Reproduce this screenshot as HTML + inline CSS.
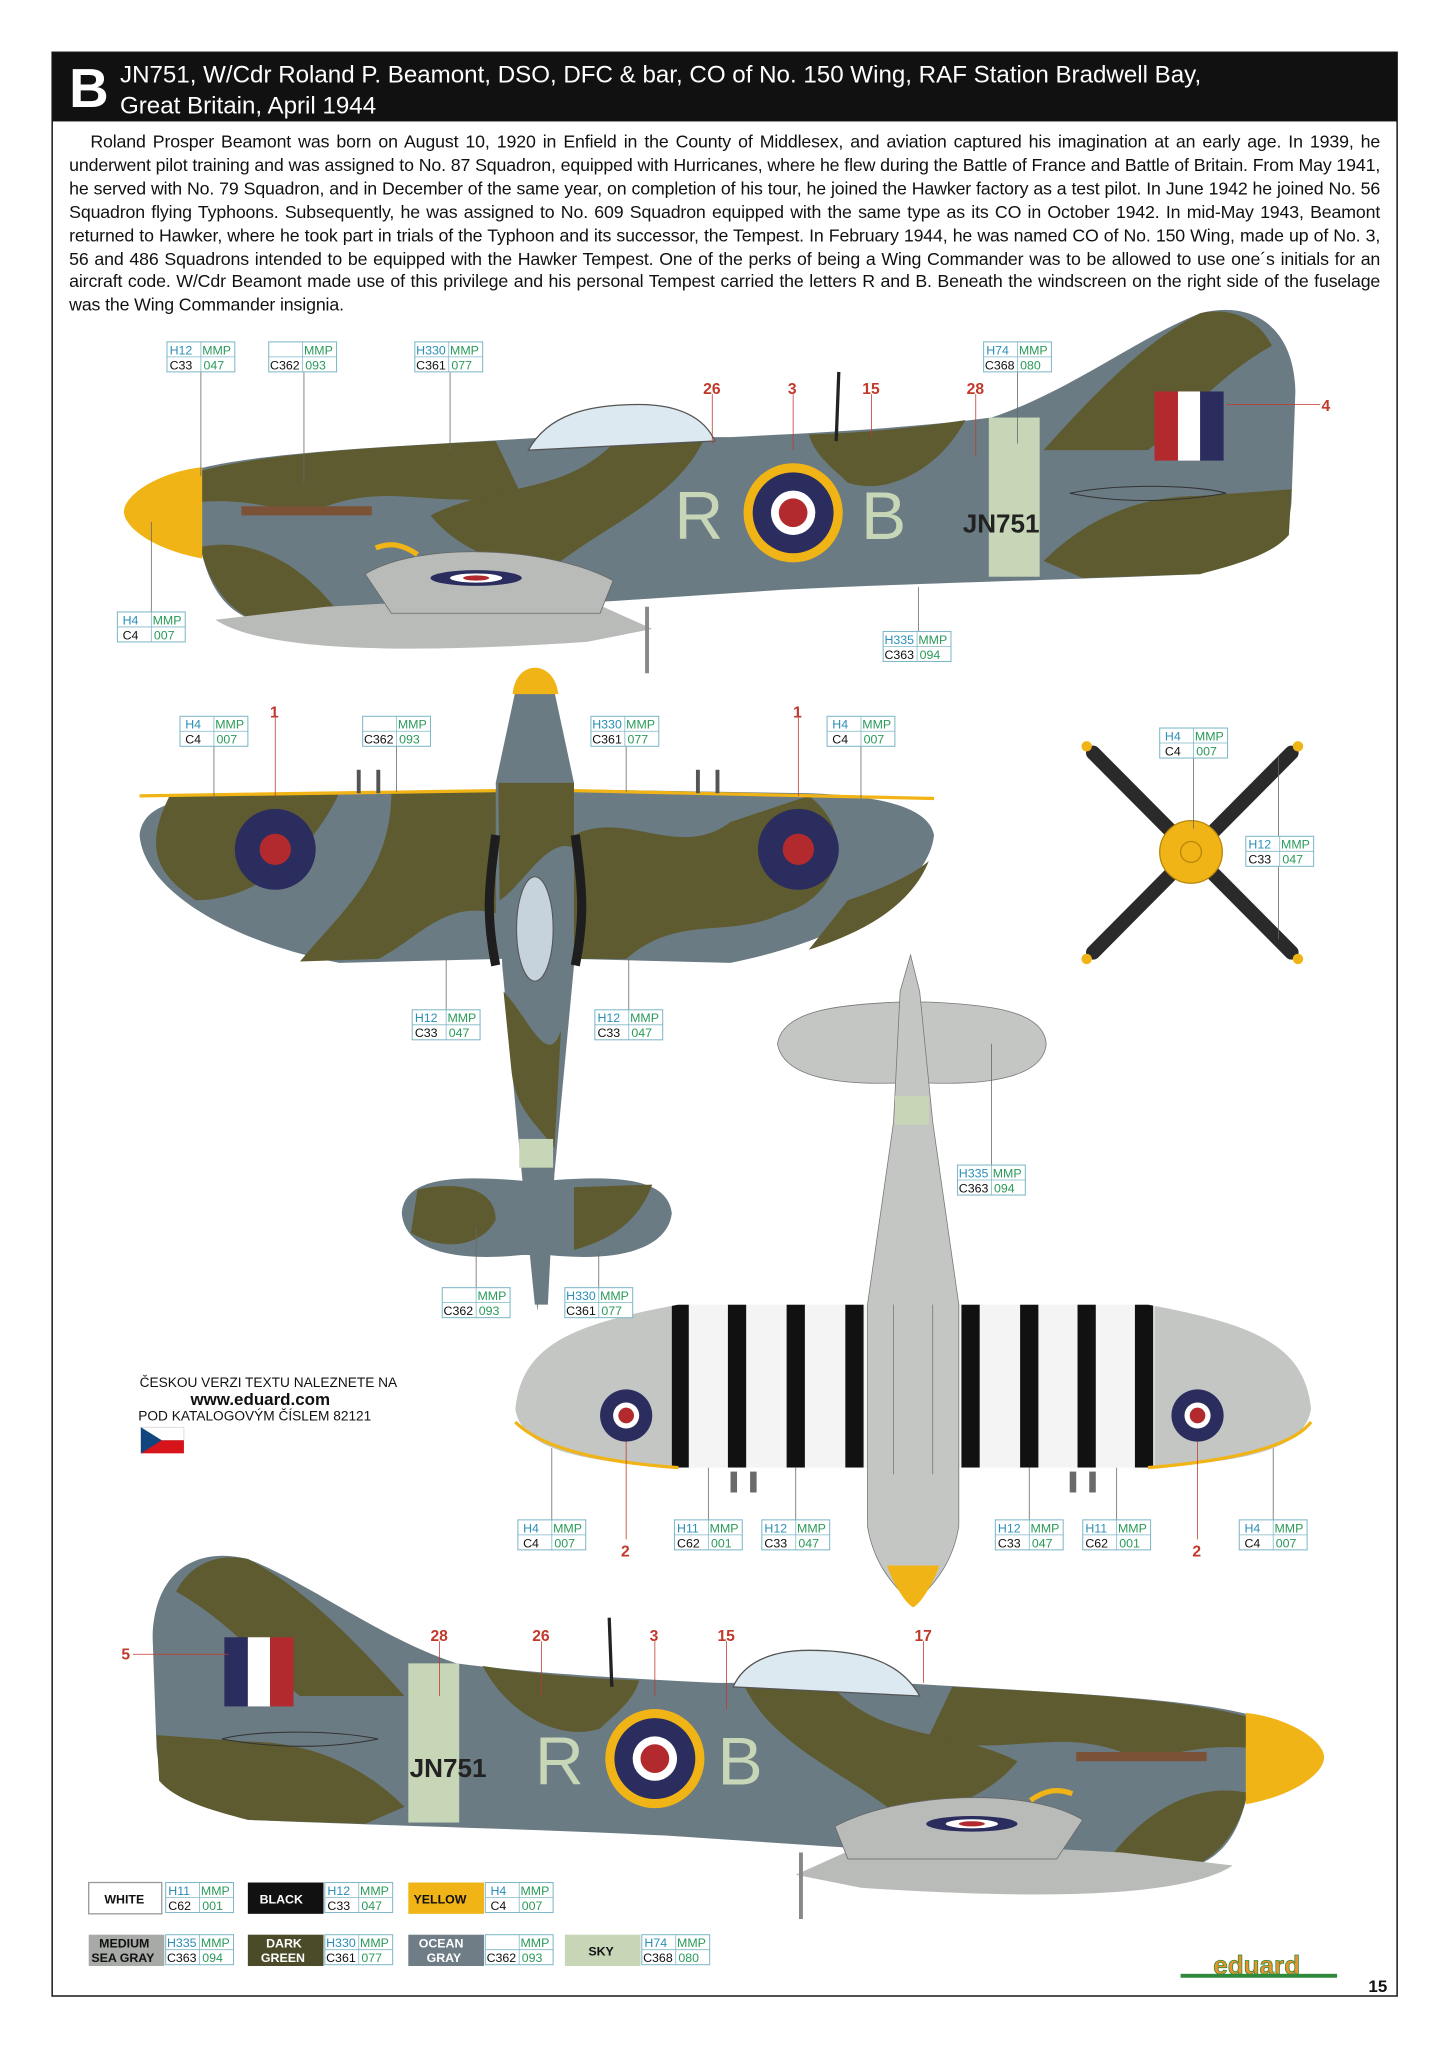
<!DOCTYPE html>
<html><head><meta charset="utf-8"><style>
html,body{margin:0;padding:0;background:#fff;}
svg{display:block;}
.p{font-family:"Liberation Sans",sans-serif;font-size:13.6px;line-height:17.9px;text-align:justify;color:#111;margin:0;letter-spacing:-0.1px;}
.cb text{font-family:"Liberation Sans",sans-serif;font-size:9.5px;}
.n{font-family:"Liberation Sans",sans-serif;font-size:12px;fill:#c0392b;font-weight:bold;}
.lg{font-family:"Liberation Sans",sans-serif;font-size:10.5px;font-weight:bold;}
</style></head><body>
<svg width="1448" height="2047" viewBox="0 0 1110 1569" xmlns="http://www.w3.org/2000/svg">
<defs>
<g id="cb">
<rect x="0" y="0" width="52" height="23" fill="#fff" stroke="#7fb8c8" stroke-width="0.8"/>
<line x1="0" y1="11.5" x2="52" y2="11.5" stroke="#7fb8c8" stroke-width="0.6"/>
<line x1="26" y1="0" x2="26" y2="23" stroke="#7fb8c8" stroke-width="0.6"/>
</g>
<g id="side">
<path d="M150,360 C200,345 350,340 420,335 L560,335 C620,332 700,328 760,320 C820,300 870,260 920,240 C960,230 992,250 993,300 L990,385 C988,410 975,425 940,432 L920,440 C800,445 700,447 600,452 C450,462 300,472 200,477 C170,470 160,445 155,425 Z" fill="#6b7b84"/>
<path d="M150,362 C200,347 300,342 380,338 L400,380 C330,390 300,370 250,388 C220,398 200,380 150,385 Z" fill="#5e5b30"/>
<path d="M330,395 C380,370 430,380 470,340 L540,336 C520,380 470,400 430,430 C390,440 350,420 330,395 Z" fill="#5e5b30"/>
<path d="M150,420 C190,410 230,430 260,470 L200,477 C175,470 160,445 155,425 Z" fill="#5e5b30"/>
<path d="M620,333 C660,332 700,328 740,322 C720,360 680,380 650,370 C640,360 625,350 620,333 Z" fill="#5e5b30"/>
<path d="M800,345 C840,300 880,260 920,240 C945,235 965,245 975,265 C930,290 900,330 880,345 Z" fill="#5e5b30"/>
<path d="M800,430 C830,400 870,380 920,380 L990,375 L988,410 C975,425 950,432 920,440 L830,443 Z" fill="#5e5b30"/>
<rect x="758" y="320" width="39" height="122" fill="#c8d6b8"/>
<path d="M155,358 C120,362 95,380 95,392 C95,405 120,422 155,428 Z" fill="#f0b416"/>
<path d="M405,345 C420,318 450,310 490,310 C520,310 540,320 548,338 Z" fill="#dde9f0" stroke="#555" stroke-width="1"/>
<path d="M165,475 C200,498 300,502 450,492 L500,482 L440,455 L250,465 Z" fill="#b9bbb8"/>
<path d="M280,440 C320,415 420,418 470,445 L460,470 L300,470 Z" fill="#b9bbb8" stroke="#666" stroke-width="0.6"/>
<ellipse cx="365" cy="443" rx="35" ry="6" fill="#2b2d5e"/><ellipse cx="365" cy="443" rx="20" ry="3.5" fill="#fff"/><ellipse cx="365" cy="443" rx="10" ry="2" fill="#b22a2e"/>
<path d="M288,420 C300,415 310,418 320,425" fill="none" stroke="#f0b416" stroke-width="4"/>
<rect x="185" y="388" width="100" height="7" fill="#7b5236"/>
<line x1="643" y1="285" x2="641" y2="338" stroke="#222" stroke-width="2.5"/>
<line x1="496" y1="465" x2="496" y2="516" stroke="#888" stroke-width="3"/>
<path d="M820,378 C860,370 920,372 940,378 C900,385 860,386 820,378 Z" fill="none" stroke="#333" stroke-width="0.8"/>
<circle cx="608" cy="393" r="38" fill="#f0b416"/><circle cx="608" cy="393" r="31" fill="#2b2d5e"/><circle cx="608" cy="393" r="17" fill="#fff"/><circle cx="608" cy="393" r="11" fill="#b22a2e"/>
</g>
</defs>
<rect x="40" y="40" width="1031" height="1490" fill="#fff" stroke="#222" stroke-width="1.2"/>
<rect x="40" y="40" width="1031" height="53" fill="#111"/>
<text x="53" y="82" font-family="Liberation Sans,sans-serif" font-weight="bold" font-size="42" fill="#fff">B</text>
<text x="92" y="63" font-family="Liberation Sans,sans-serif" font-size="18.5" fill="#fff">JN751, W/Cdr Roland P. Beamont, DSO, DFC &amp; bar, CO of No. 150 Wing, RAF Station Bradwell Bay,</text>
<text x="92" y="87" font-family="Liberation Sans,sans-serif" font-size="18.5" fill="#fff">Great Britain, April 1944</text>
<foreignObject x="53" y="100" width="1005" height="150"><div xmlns="http://www.w3.org/1999/xhtml" class="p">&#160;&#160;&#160;Roland Prosper Beamont was born on August 10, 1920 in Enfield in the County of Middlesex, and aviation captured his imagination at an early age. In 1939, he underwent pilot training and was assigned to No. 87 Squadron, equipped with Hurricanes, where he flew during the Battle of France and Battle of Britain. From May 1941, he served with No. 79 Squadron, and in December of the same year, on completion of his tour, he joined the Hawker factory as a test pilot. In June 1942 he joined No. 56 Squadron flying Typhoons. Subsequently, he was assigned to No. 609 Squadron equipped with the same type as its CO in October 1942. In mid-May 1943, Beamont returned to Hawker, where he took part in trials of the Typhoon and its successor, the Tempest. In February 1944, he was named CO of No. 150 Wing, made up of No. 3, 56 and 486 Squadrons intended to be equipped with the Hawker Tempest. One of the perks of being a Wing Commander was to be allowed to use one´s initials for an aircraft code. W/Cdr Beamont made use of this privilege and his personal Tempest carried the letters R and B. Beneath the windscreen on the right side of the fuselage was the Wing Commander insignia.</div></foreignObject>

<use href="#side"/>
<rect x="885" y="300" width="18" height="53" fill="#b22a2e"/><rect x="903" y="300" width="17" height="53" fill="#fff"/><rect x="920" y="300" width="18" height="53" fill="#2b2d5e"/>
<text x="517" y="413" font-family="Liberation Sans,sans-serif" font-size="52" fill="#c8d6b8">R</text>
<text x="660" y="413" font-family="Liberation Sans,sans-serif" font-size="52" fill="#c8d6b8">B</text>
<text x="738" y="408" font-family="Liberation Sans,sans-serif" font-size="20" font-weight="bold" fill="#222">JN751</text>

<use href="#side" transform="translate(1110,955) scale(-1,1)"/>
<rect x="172" y="1255" width="18" height="53" fill="#2b2d5e"/><rect x="190" y="1255" width="17" height="53" fill="#fff"/><rect x="207" y="1255" width="18" height="53" fill="#b22a2e"/>
<text x="410" y="1368" font-family="Liberation Sans,sans-serif" font-size="52" fill="#c8d6b8">R</text>
<text x="550" y="1368" font-family="Liberation Sans,sans-serif" font-size="52" fill="#c8d6b8">B</text>
<text x="314" y="1362" font-family="Liberation Sans,sans-serif" font-size="20" font-weight="bold" fill="#222">JN751</text>

<path d="M107,640 C110,615 140,610 200,608 L380,605 L440,605 L620,608 C680,610 712,620 716,640 C712,680 650,720 560,738 L440,735 L385,735 L260,738 C170,720 110,680 107,640 Z" fill="#6b7b84"/>
<path d="M130,610 L260,608 C240,650 200,690 150,690 C120,670 110,650 130,610 Z" fill="#5e5b30"/>
<path d="M300,607 L380,606 L380,700 C340,690 320,720 290,735 L230,737 C260,700 300,670 300,607 Z" fill="#5e5b30"/>
<path d="M440,640 C480,620 520,660 560,630 L620,610 C660,640 640,690 600,700 C560,720 520,700 480,735 L440,735 Z" fill="#5e5b30"/>
<path d="M650,690 C680,680 700,670 712,660 C700,690 670,712 620,728 Z" fill="#5e5b30"/>
<path d="M107,610 L380,606 M440,606 L716,612" stroke="#f0b416" stroke-width="2.5" fill="none"/>
<path d="M395,530 C400,515 420,515 425,530 L440,600 L440,740 L425,900 L420,1000 L410,1000 L400,900 L385,740 L380,600 Z" fill="#6b7b84"/>
<path d="M382,600 L440,600 L440,650 C420,640 400,680 383,690 Z" fill="#5e5b30"/>
<path d="M386,760 C405,780 420,820 430,790 L425,880 C410,860 395,850 392,820 Z" fill="#5e5b30"/>
<rect x="398" y="873" width="26" height="22" fill="#c8d6b8"/>
<path d="M393,532 C395,505 425,505 428,532 Z" fill="#f0b416"/>
<ellipse cx="410" cy="712" rx="14" ry="40" fill="#c7d3dc" stroke="#555" stroke-width="0.8"/>
<path d="M380,640 C375,680 372,700 380,740" stroke="#1e1e1e" stroke-width="7" fill="none"/>
<path d="M441,640 C446,680 449,700 441,740" stroke="#1e1e1e" stroke-width="7" fill="none"/>
<path d="M308,930 C310,905 340,900 400,905 L420,905 C480,900 512,905 515,930 C512,955 480,968 420,962 L400,962 C340,968 310,955 308,930 Z" fill="#6b7b84"/>
<path d="M320,912 C350,905 380,910 380,935 C370,955 340,960 315,945 Z M440,910 L500,908 C490,935 470,950 440,958 Z" fill="#5e5b30"/>
<path d="M408,962 L412,1005 L416,962 Z" fill="#6b7b84"/>
<line x1="275" y1="590" x2="275" y2="608" stroke="#555" stroke-width="3"/><line x1="290" y1="590" x2="290" y2="608" stroke="#555" stroke-width="3"/>
<line x1="535" y1="590" x2="535" y2="608" stroke="#555" stroke-width="3"/><line x1="550" y1="590" x2="550" y2="608" stroke="#555" stroke-width="3"/>
<circle cx="211" cy="651" r="31" fill="#2b2d5e"/><circle cx="211" cy="651" r="12" fill="#b22a2e"/>
<circle cx="612" cy="651" r="31" fill="#2b2d5e"/><circle cx="612" cy="651" r="12" fill="#b22a2e"/>

<g stroke="#2a2a2a" stroke-width="11" stroke-linecap="round"><line x1="838" y1="577" x2="990" y2="730"/><line x1="990" y1="577" x2="838" y2="730"/></g>
<circle cx="833" cy="572" r="4" fill="#f0b416"/><circle cx="995" cy="572" r="4" fill="#f0b416"/><circle cx="833" cy="735" r="4" fill="#f0b416"/><circle cx="995" cy="735" r="4" fill="#f0b416"/>
<circle cx="913" cy="653" r="24" fill="#f0b416" stroke="#b8860b" stroke-width="1"/><circle cx="913" cy="653" r="8" fill="none" stroke="#b8860b"/>

<path d="M596,800 C600,775 640,770 690,768 L710,768 C760,770 800,775 802,800 C800,825 760,832 710,830 L690,830 C640,832 600,825 596,800 Z" fill="#c4c6c4" stroke="#777" stroke-width="0.6"/>
<clipPath id="wc"><path d="M395,1080 C400,1030 440,1015 520,1000 L880,1000 C960,1015 1000,1030 1005,1080 C1000,1110 960,1120 880,1125 L520,1125 C440,1120 400,1110 395,1080 Z"/></clipPath>
<path d="M395,1080 C400,1030 440,1015 520,1000 L880,1000 C960,1015 1000,1030 1005,1080 C1000,1110 960,1120 880,1125 L520,1125 C440,1120 400,1110 395,1080 Z" fill="#f4f4f4"/>
<g clip-path="url(#wc)">
<rect x="395" y="995" width="120" height="135" fill="#c4c6c4"/><rect x="885" y="995" width="120" height="135" fill="#c4c6c4"/>
<g fill="#111"><rect x="515" y="995" width="13" height="135"/><rect x="558" y="995" width="14" height="135"/><rect x="603" y="995" width="14" height="135"/><rect x="648" y="995" width="14" height="135"/><rect x="737" y="995" width="14" height="135"/><rect x="782" y="995" width="14" height="135"/><rect x="826" y="995" width="14" height="135"/><rect x="870" y="995" width="14" height="135"/></g>
</g>
<path d="M395,1090 C420,1115 480,1122 520,1125 M880,1125 C940,1120 990,1110 1005,1090" stroke="#f0b416" stroke-width="2.5" fill="none"/>
<path d="M690,760 L698,732 L705,760 L715,860 L735,1000 L735,1170 C730,1200 715,1215 700,1230 C685,1215 670,1200 665,1170 L665,1000 L685,860 Z" fill="#c4c6c4" stroke="#777" stroke-width="0.6"/>
<g fill="none" stroke="#777" stroke-width="0.6"><line x1="685" y1="1000" x2="685" y2="1130"/><line x1="715" y1="1000" x2="715" y2="1130"/></g>
<rect x="686" y="840" width="26" height="22" fill="#c8d6b8"/>
<g fill="#6a6a6a"><rect x="560" y="1128" width="5" height="16"/><rect x="575" y="1128" width="5" height="16"/><rect x="820" y="1128" width="5" height="16"/><rect x="835" y="1128" width="5" height="16"/></g>
<path d="M680,1200 C685,1215 695,1230 700,1232 C705,1230 715,1215 720,1200 Z" fill="#f0b416"/>
<circle cx="480" cy="1085" r="20" fill="#2b2d5e"/><circle cx="480" cy="1085" r="10" fill="#fff"/><circle cx="480" cy="1085" r="6" fill="#b22a2e"/>
<circle cx="918" cy="1085" r="20" fill="#2b2d5e"/><circle cx="918" cy="1085" r="10" fill="#fff"/><circle cx="918" cy="1085" r="6" fill="#b22a2e"/>

<g stroke="#666" stroke-width="0.6">
<line x1="154" y1="285" x2="154" y2="365"/><line x1="233" y1="285" x2="233" y2="370"/><line x1="345" y1="285" x2="345" y2="345"/><line x1="780" y1="285" x2="780" y2="340"/>
<line x1="116" y1="469" x2="116" y2="400"/><line x1="704" y1="484" x2="704" y2="450"/>
<line x1="164" y1="572" x2="164" y2="612"/><line x1="304" y1="572" x2="304" y2="607"/><line x1="480" y1="572" x2="480" y2="607"/><line x1="660" y1="572" x2="660" y2="612"/>
<line x1="915" y1="581" x2="915" y2="635"/><line x1="980" y1="580" x2="980" y2="720"/><line x1="342" y1="774" x2="342" y2="735"/><line x1="482" y1="774" x2="482" y2="735"/>
<line x1="760" y1="893" x2="760" y2="800"/><line x1="365" y1="987" x2="365" y2="940"/><line x1="459" y1="987" x2="459" y2="960"/>
<line x1="423" y1="1165" x2="423" y2="1110"/><line x1="543" y1="1165" x2="543" y2="1125"/><line x1="610" y1="1165" x2="610" y2="1125"/><line x1="789" y1="1165" x2="789" y2="1125"/><line x1="856" y1="1165" x2="856" y2="1125"/><line x1="976" y1="1165" x2="976" y2="1110"/>
</g>
<g stroke="#c0392b" stroke-width="0.6">
<line x1="546" y1="302" x2="546" y2="340"/><line x1="608" y1="302" x2="608" y2="345"/><line x1="668" y1="302" x2="668" y2="335"/><line x1="748" y1="302" x2="748" y2="350"/><line x1="940" y1="310" x2="1012" y2="310"/>
<line x1="211" y1="550" x2="211" y2="610"/><line x1="612" y1="550" x2="612" y2="610"/><line x1="480" y1="1105" x2="480" y2="1180"/><line x1="918" y1="1105" x2="918" y2="1180"/>
<line x1="337" y1="1258" x2="337" y2="1300"/><line x1="415" y1="1258" x2="415" y2="1300"/><line x1="502" y1="1258" x2="502" y2="1300"/><line x1="557" y1="1258" x2="557" y2="1310"/><line x1="708" y1="1258" x2="708" y2="1290"/><line x1="102" y1="1268" x2="175" y2="1268"/>
</g>
<g class="n">
<text x="539" y="302">26</text><text x="604" y="302">3</text><text x="661" y="302">15</text><text x="741" y="302">28</text><text x="1013" y="315">4</text>
<text x="207" y="550">1</text><text x="608" y="550">1</text><text x="476" y="1193">2</text><text x="914" y="1193">2</text>
<text x="330" y="1258">28</text><text x="408" y="1258">26</text><text x="498" y="1258">3</text><text x="550" y="1258">15</text><text x="701" y="1258">17</text><text x="93" y="1272">5</text>
</g>

<g class="cb">
<g transform="translate(128,262)"><use href="#cb"/><text x="2" y="9.5" fill="#2b8fb8">H12</text><text x="27" y="9.5" fill="#2a9a5a">MMP</text><text x="2" y="21" fill="#111">C33</text><text x="28" y="21" fill="#2a9a5a">047</text></g>
<g transform="translate(206,262)"><use href="#cb"/><text x="27" y="9.5" fill="#2a9a5a">MMP</text><text x="1" y="21" fill="#111">C362</text><text x="28" y="21" fill="#2a9a5a">093</text></g>
<g transform="translate(318,262)"><use href="#cb"/><text x="1" y="9.5" fill="#2b8fb8">H330</text><text x="27" y="9.5" fill="#2a9a5a">MMP</text><text x="1" y="21" fill="#111">C361</text><text x="28" y="21" fill="#2a9a5a">077</text></g>
<g transform="translate(754,262)"><use href="#cb"/><text x="2" y="9.5" fill="#2b8fb8">H74</text><text x="27" y="9.5" fill="#2a9a5a">MMP</text><text x="1" y="21" fill="#111">C368</text><text x="28" y="21" fill="#2a9a5a">080</text></g>
<g transform="translate(90,469)"><use href="#cb"/><text x="4" y="9.5" fill="#2b8fb8">H4</text><text x="27" y="9.5" fill="#2a9a5a">MMP</text><text x="4" y="21" fill="#111">C4</text><text x="28" y="21" fill="#2a9a5a">007</text></g>
<g transform="translate(677,484)"><use href="#cb"/><text x="1" y="9.5" fill="#2b8fb8">H335</text><text x="27" y="9.5" fill="#2a9a5a">MMP</text><text x="1" y="21" fill="#111">C363</text><text x="28" y="21" fill="#2a9a5a">094</text></g>
<g transform="translate(138,549)"><use href="#cb"/><text x="4" y="9.5" fill="#2b8fb8">H4</text><text x="27" y="9.5" fill="#2a9a5a">MMP</text><text x="4" y="21" fill="#111">C4</text><text x="28" y="21" fill="#2a9a5a">007</text></g>
<g transform="translate(278,549)"><use href="#cb"/><text x="27" y="9.5" fill="#2a9a5a">MMP</text><text x="1" y="21" fill="#111">C362</text><text x="28" y="21" fill="#2a9a5a">093</text></g>
<g transform="translate(453,549)"><use href="#cb"/><text x="1" y="9.5" fill="#2b8fb8">H330</text><text x="27" y="9.5" fill="#2a9a5a">MMP</text><text x="1" y="21" fill="#111">C361</text><text x="28" y="21" fill="#2a9a5a">077</text></g>
<g transform="translate(634,549)"><use href="#cb"/><text x="4" y="9.5" fill="#2b8fb8">H4</text><text x="27" y="9.5" fill="#2a9a5a">MMP</text><text x="4" y="21" fill="#111">C4</text><text x="28" y="21" fill="#2a9a5a">007</text></g>
<g transform="translate(889,558)"><use href="#cb"/><text x="4" y="9.5" fill="#2b8fb8">H4</text><text x="27" y="9.5" fill="#2a9a5a">MMP</text><text x="4" y="21" fill="#111">C4</text><text x="28" y="21" fill="#2a9a5a">007</text></g>
<g transform="translate(955,641)"><use href="#cb"/><text x="2" y="9.5" fill="#2b8fb8">H12</text><text x="27" y="9.5" fill="#2a9a5a">MMP</text><text x="2" y="21" fill="#111">C33</text><text x="28" y="21" fill="#2a9a5a">047</text></g>
<g transform="translate(316,774)"><use href="#cb"/><text x="2" y="9.5" fill="#2b8fb8">H12</text><text x="27" y="9.5" fill="#2a9a5a">MMP</text><text x="2" y="21" fill="#111">C33</text><text x="28" y="21" fill="#2a9a5a">047</text></g>
<g transform="translate(456,774)"><use href="#cb"/><text x="2" y="9.5" fill="#2b8fb8">H12</text><text x="27" y="9.5" fill="#2a9a5a">MMP</text><text x="2" y="21" fill="#111">C33</text><text x="28" y="21" fill="#2a9a5a">047</text></g>
<g transform="translate(734,893)"><use href="#cb"/><text x="1" y="9.5" fill="#2b8fb8">H335</text><text x="27" y="9.5" fill="#2a9a5a">MMP</text><text x="1" y="21" fill="#111">C363</text><text x="28" y="21" fill="#2a9a5a">094</text></g>
<g transform="translate(339,987)"><use href="#cb"/><text x="27" y="9.5" fill="#2a9a5a">MMP</text><text x="1" y="21" fill="#111">C362</text><text x="28" y="21" fill="#2a9a5a">093</text></g>
<g transform="translate(433,987)"><use href="#cb"/><text x="1" y="9.5" fill="#2b8fb8">H330</text><text x="27" y="9.5" fill="#2a9a5a">MMP</text><text x="1" y="21" fill="#111">C361</text><text x="28" y="21" fill="#2a9a5a">077</text></g>
<g transform="translate(397,1165)"><use href="#cb"/><text x="4" y="9.5" fill="#2b8fb8">H4</text><text x="27" y="9.5" fill="#2a9a5a">MMP</text><text x="4" y="21" fill="#111">C4</text><text x="28" y="21" fill="#2a9a5a">007</text></g>
<g transform="translate(517,1165)"><use href="#cb"/><text x="2" y="9.5" fill="#2b8fb8">H11</text><text x="27" y="9.5" fill="#2a9a5a">MMP</text><text x="2" y="21" fill="#111">C62</text><text x="28" y="21" fill="#2a9a5a">001</text></g>
<g transform="translate(584,1165)"><use href="#cb"/><text x="2" y="9.5" fill="#2b8fb8">H12</text><text x="27" y="9.5" fill="#2a9a5a">MMP</text><text x="2" y="21" fill="#111">C33</text><text x="28" y="21" fill="#2a9a5a">047</text></g>
<g transform="translate(763,1165)"><use href="#cb"/><text x="2" y="9.5" fill="#2b8fb8">H12</text><text x="27" y="9.5" fill="#2a9a5a">MMP</text><text x="2" y="21" fill="#111">C33</text><text x="28" y="21" fill="#2a9a5a">047</text></g>
<g transform="translate(830,1165)"><use href="#cb"/><text x="2" y="9.5" fill="#2b8fb8">H11</text><text x="27" y="9.5" fill="#2a9a5a">MMP</text><text x="2" y="21" fill="#111">C62</text><text x="28" y="21" fill="#2a9a5a">001</text></g>
<g transform="translate(950,1165)"><use href="#cb"/><text x="4" y="9.5" fill="#2b8fb8">H4</text><text x="27" y="9.5" fill="#2a9a5a">MMP</text><text x="4" y="21" fill="#111">C4</text><text x="28" y="21" fill="#2a9a5a">007</text></g>

<rect x="68" y="1443" width="56" height="24" fill="#fff" stroke="#999"/><text class="lg" x="80" y="1459" fill="#111">WHITE</text>
<g transform="translate(127,1443)"><use href="#cb"/><text x="2" y="9.5" fill="#2b8fb8">H11</text><text x="27" y="9.5" fill="#2a9a5a">MMP</text><text x="2" y="21" fill="#111">C62</text><text x="28" y="21" fill="#2a9a5a">001</text></g>
<rect x="190" y="1443" width="58" height="24" fill="#111"/><text class="lg" x="199" y="1459" fill="#fff">BLACK</text>
<g transform="translate(249,1443)"><use href="#cb"/><text x="2" y="9.5" fill="#2b8fb8">H12</text><text x="27" y="9.5" fill="#2a9a5a">MMP</text><text x="2" y="21" fill="#111">C33</text><text x="28" y="21" fill="#2a9a5a">047</text></g>
<rect x="313" y="1443" width="58" height="24" fill="#f0b416"/><text class="lg" x="317" y="1459" fill="#111">YELLOW</text>
<g transform="translate(372,1443)"><use href="#cb"/><text x="4" y="9.5" fill="#2b8fb8">H4</text><text x="27" y="9.5" fill="#2a9a5a">MMP</text><text x="4" y="21" fill="#111">C4</text><text x="28" y="21" fill="#2a9a5a">007</text></g>
<rect x="68" y="1483" width="58" height="24" fill="#a8aaa8"/><text class="lg" x="76" y="1493" font-size="9.5" fill="#111">MEDIUM</text><text class="lg" x="70" y="1504" font-size="9.5" fill="#111">SEA GRAY</text>
<g transform="translate(127,1483)"><use href="#cb"/><text x="1" y="9.5" fill="#2b8fb8">H335</text><text x="27" y="9.5" fill="#2a9a5a">MMP</text><text x="1" y="21" fill="#111">C363</text><text x="28" y="21" fill="#2a9a5a">094</text></g>
<rect x="190" y="1483" width="58" height="24" fill="#4b4b2a"/><text class="lg" x="204" y="1493" font-size="9.5" fill="#fff">DARK</text><text class="lg" x="200" y="1504" font-size="9.5" fill="#fff">GREEN</text>
<g transform="translate(249,1483)"><use href="#cb"/><text x="1" y="9.5" fill="#2b8fb8">H330</text><text x="27" y="9.5" fill="#2a9a5a">MMP</text><text x="1" y="21" fill="#111">C361</text><text x="28" y="21" fill="#2a9a5a">077</text></g>
<rect x="313" y="1483" width="58" height="24" fill="#6e7d86"/><text class="lg" x="321" y="1493" font-size="9.5" fill="#fff">OCEAN</text><text class="lg" x="327" y="1504" font-size="9.5" fill="#fff">GRAY</text>
<g transform="translate(372,1483)"><use href="#cb"/><text x="27" y="9.5" fill="#2a9a5a">MMP</text><text x="1" y="21" fill="#111">C362</text><text x="28" y="21" fill="#2a9a5a">093</text></g>
<rect x="433" y="1483" width="58" height="24" fill="#c8d6b8"/><text class="lg" x="451" y="1499" fill="#111">SKY</text>
<g transform="translate(492,1483)"><use href="#cb"/><text x="2" y="9.5" fill="#2b8fb8">H74</text><text x="27" y="9.5" fill="#2a9a5a">MMP</text><text x="1" y="21" fill="#111">C368</text><text x="28" y="21" fill="#2a9a5a">080</text></g>
</g>

<text x="107" y="1063" font-family="Liberation Sans,sans-serif" font-size="10.5" fill="#111">ČESKOU VERZI TEXTU NALEZNETE NA</text>
<text x="146" y="1077" font-family="Liberation Sans,sans-serif" font-size="13" font-weight="bold" fill="#111">www.eduard.com</text>
<text x="106" y="1089" font-family="Liberation Sans,sans-serif" font-size="10.5" fill="#111">POD KATALOGOVÝM ČÍSLEM 82121</text>
<rect x="108" y="1094" width="33" height="10" fill="#fff" stroke="#ccc" stroke-width="0.5"/><rect x="108" y="1104" width="33" height="10" fill="#d7141a"/><path d="M108,1094 L124,1104 L108,1114 Z" fill="#11457e"/>

<text x="930" y="1513" font-family="Liberation Sans,sans-serif" font-size="20" font-weight="bold" fill="#e9932a" stroke="#2f8a3c" stroke-width="0.6">eduard</text>
<rect x="905" y="1513" width="120" height="3" fill="#2f8a3c"/>
<text x="1049" y="1527" font-family="Liberation Sans,sans-serif" font-size="13" font-weight="bold" fill="#111">15</text>
</svg>
</body></html>
